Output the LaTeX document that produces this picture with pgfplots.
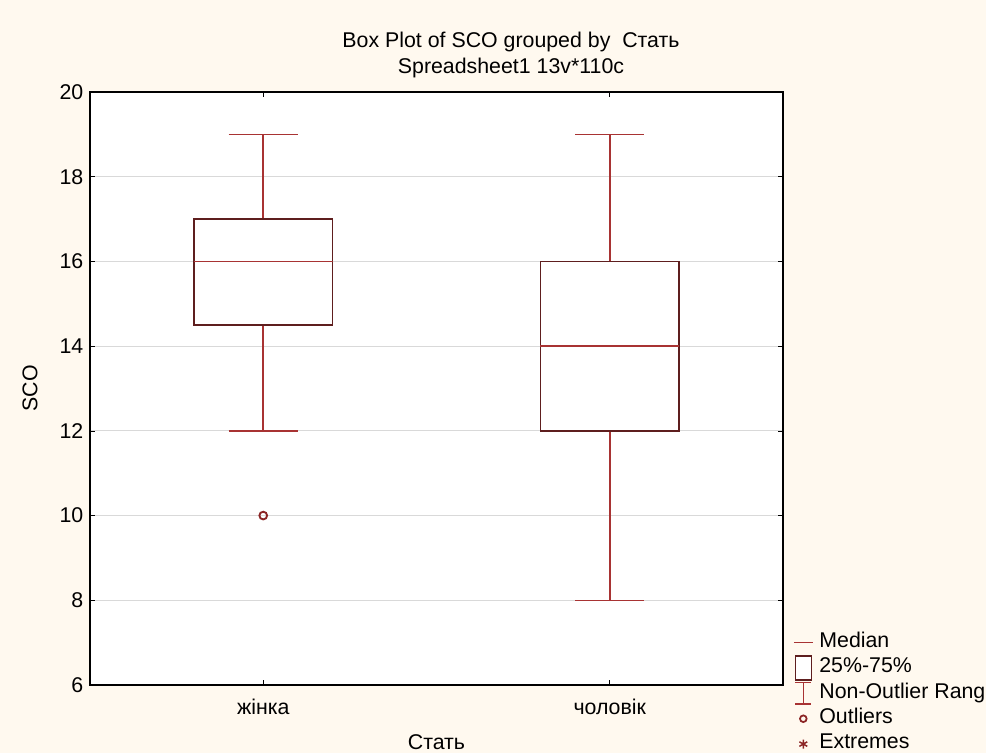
\documentclass[border=0pt]{standalone}
\usepackage{pgfplots}
\pgfplotsset{compat=1.18}
\usepgfplotslibrary{statistics}
\usepackage{fontspec}
\setmainfont{Liberation Sans}
\definecolor{bg}{HTML}{FFF9EF}
\definecolor{dred}{HTML}{8B2525}
\definecolor{boxc}{HTML}{5E1E1E}
\definecolor{wred}{HTML}{A83333}
\newcommand{\fs}{\fontsize{16}{19}\selectfont}
\begin{document}
\begin{tikzpicture}
\path[use as bounding box, fill=bg] (-67.5pt,-51pt) rectangle (672pt,513.75pt);
\begin{axis}[
  scale only axis, width=519.75pt, height=444.75pt,
  at={(0pt,0pt)}, anchor=south west,
  xmin=0.5, xmax=2.5, ymin=6, ymax=20,
  xtick={1,2}, xticklabels={жінка, чоловік},
  ytick={6,8,...,20},
  ymajorgrids, grid style={black!15, line width=0.7pt},
  axis background/.style={fill=white},
  axis line style={black, line width=0.9pt},
  tick style={black, line width=0.5pt},
  major tick length=4pt,
  tick label style={font=\fs},
  /pgf/number format/assume math mode=true,
  xticklabel style={yshift=-7pt},
  yticklabel style={xshift=-1.5pt},
  xlabel={Стать}, ylabel={SCO},
  label style={font=\fs},
  xlabel style={at={(axis description cs:0.5,-0.0961)}, anchor=center},
  ylabel style={at={(axis description cs:-0.0866,0.5)}, anchor=center},
  clip=false,
  boxplot/draw direction=y,
  boxplot/every box/.style={draw=boxc, line width=1.15pt},
  boxplot/every median/.style={draw=wred, line width=1.15pt},
  boxplot/every whisker/.style={draw=wred, line width=1.15pt},
  legend style={at={(axis description cs:1.0144,0.0933)}, anchor=north west,
    draw=none, fill=none, inner sep=0pt, font=\fs, row sep=0pt,
    nodes={inner sep=2pt, text height=11pt, text depth=4pt},
    /tikz/every odd column/.append style={column sep=2.5pt},
    legend cell align=left},
]
\addlegendimage{legend image code/.code={\draw[wred, line width=1.1pt] (0pt,0pt) -- (14pt,0pt);}}
\addlegendentry{Median}
\addlegendimage{legend image code/.code={\draw[boxc, line width=1.1pt, fill=white] (1pt,-9pt) rectangle (13pt,9pt);}}
\addlegendentry{25\%-75\%}
\addlegendimage{legend image code/.code={\draw[wred, line width=1.1pt] (1pt,8pt) -- (13pt,8pt) (7pt,8pt) -- (7pt,-8pt) (1pt,-8pt) -- (13pt,-8pt);}}
\addlegendentry{Non-Outlier Rang}
\addlegendimage{legend image code/.code={\draw[dred, line width=1.3pt] (7pt,0pt) circle (2.5pt);}}
\addlegendentry{Outliers}
\addlegendimage{legend image code/.code={\draw[dred, line width=1.1pt, mark=asterisk, mark size=3.4pt] plot coordinates {(7pt,0pt)};}}
\addlegendentry{Extremes}

\addplot[wred, line width=1.15pt, solid, mark=o, mark size=2.9pt,
  mark options={solid, draw=dred, line width=1.4pt},
  boxplot prepared={median=16, upper quartile=17, lower quartile=14.5,
    upper whisker=19, lower whisker=12, draw position=1,
    box extend=0.4, whisker extend=0.2}] coordinates {(0,10)};
\addplot[wred, line width=1.15pt, solid,
  boxplot prepared={median=14, upper quartile=16, lower quartile=12,
    upper whisker=19, lower whisker=8, draw position=2,
    box extend=0.4, whisker extend=0.2}] coordinates {};

\node[font=\fs, anchor=center] at (axis description cs:0.6075,1.0843) {Box Plot of SCO grouped by\ \ Стать};
\node[font=\fs, anchor=center] at (axis description cs:0.6075,1.0404) {Spreadsheet1 13v*110c};
\end{axis}
\end{tikzpicture}
\end{document}
